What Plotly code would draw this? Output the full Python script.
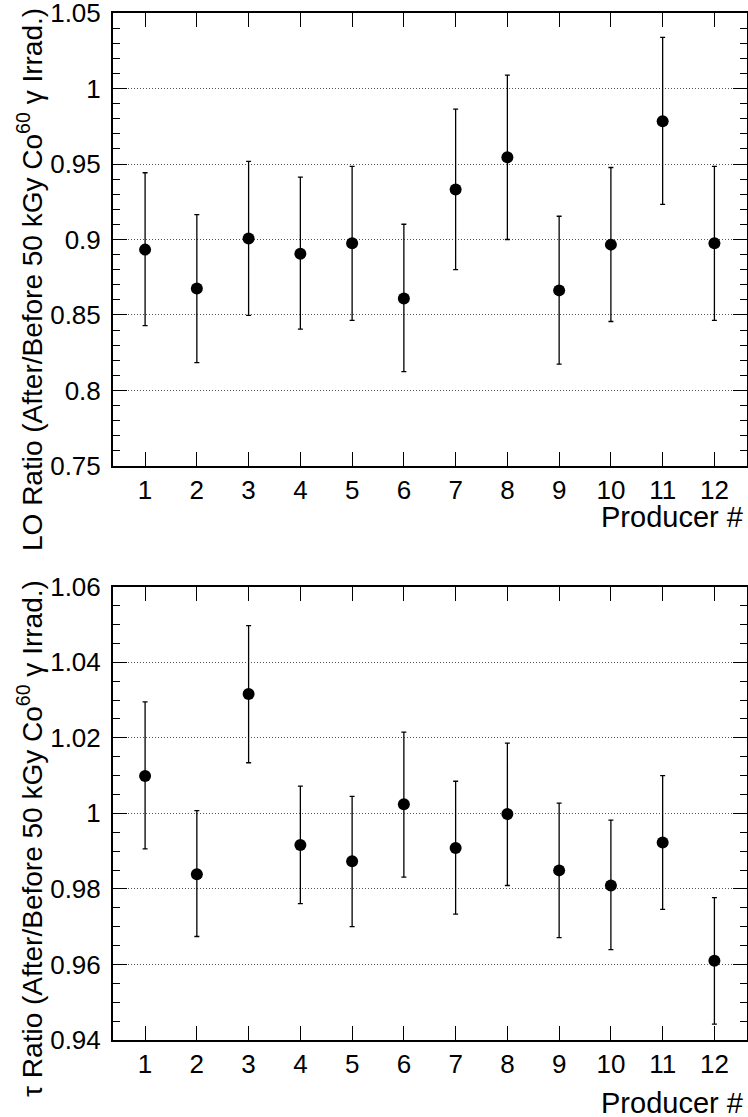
import plotly.graph_objects as go

producers = [1, 2, 3, 4, 5, 6, 7, 8, 9, 10, 11, 12]
x_tick_labels = [str(p) for p in producers]

# Light output ratio (top panel)
lo_ratio = [0.8933, 0.8676, 0.9006, 0.8906, 0.8975, 0.8610, 0.9331, 0.9544, 0.8663, 0.8966, 0.9783, 0.8975]
lo_err_up = [0.0509, 0.0489, 0.0511, 0.0507, 0.0509, 0.0491, 0.0532, 0.0544, 0.0491, 0.0511, 0.0556, 0.0509]
lo_err_dn = [0.0503, 0.0491, 0.0509, 0.0500, 0.0511, 0.0485, 0.0531, 0.0544, 0.0489, 0.0509, 0.0551, 0.0511]

# Decay time ratio (bottom panel)
tau_ratio = [1.0099, 0.9839, 1.0316, 0.9916, 0.9873, 1.0024, 0.9908, 0.9998, 0.9849, 0.9809, 0.9923, 0.9610]
tau_err_up = [0.0196, 0.0168, 0.0181, 0.0156, 0.0172, 0.0191, 0.0177, 0.0188, 0.0178, 0.0173, 0.0177, 0.0167]
tau_err_dn = [0.0193, 0.0165, 0.0182, 0.0155, 0.0173, 0.0193, 0.0175, 0.0189, 0.0178, 0.0170, 0.0177, 0.0168]

lo_ticks = [0.75, 0.8, 0.85, 0.9, 0.95, 1.0, 1.05]
lo_tick_labels = ["0.75", "0.8", "0.85", "0.9", "0.95", "1", "1.05"]
tau_ticks = [0.94, 0.96, 0.98, 1.0, 1.02, 1.04, 1.06]
tau_tick_labels = ["0.94", "0.96", "0.98", "1", "1.02", "1.04", "1.06"]

lo_title = "LO Ratio (After/Before 50 kGy Co<sup>60</sup> γ Irrad.)"
tau_title = "τ Ratio (After/Before 50 kGy Co<sup>60</sup> γ Irrad.)"
x_title = "Producer #"

W, H = 748, 1117
FONT = "Liberation Sans, Arial, Helvetica, sans-serif"


def px_x(v):
    return v / W


def px_y(v):
    return 1 - v / H


fig = go.Figure()


def add_panel(y, up, dn, xa, ya):
    fig.add_trace(go.Scatter(
        x=producers, y=y, mode="markers", xaxis=xa, yaxis=ya,
        marker=dict(color="black", size=12, symbol="circle"),
        error_y=dict(type="data", symmetric=False, array=up, arrayminus=dn,
                     color="black", thickness=1.3, width=2.5),
        showlegend=False, cliponaxis=False,
    ))


add_panel(lo_ratio, lo_err_up, lo_err_dn, "x", "y")
add_panel(tau_ratio, tau_err_up, tau_err_dn, "x2", "y2")

xdom = [px_x(113), px_x(746.5)]
top_dom = [px_y(466), px_y(13)]
bot_dom = [px_y(1040), px_y(586.7)]

common_x = dict(
    range=[0.38, 12.62], tickmode="array", tickvals=producers, ticktext=x_tick_labels,
    ticks="inside", ticklen=14, tickwidth=1.2, tickcolor="black",
    showline=True, linewidth=2, linecolor="black", mirror="allticks",
    showgrid=False, zeroline=False, domain=xdom, automargin=False,
    ticklabeloverflow="allow",
    tickfont=dict(family=FONT, size=26, color="black"),
)
common_y = dict(
    tickmode="array",
    ticks="inside", ticklen=14, tickwidth=1.2, tickcolor="black",
    showline=True, linewidth=2, linecolor="black", mirror="allticks",
    showgrid=True, gridcolor="#555", griddash="1px,2px", gridwidth=1,
    zeroline=False, automargin=False, ticklabelstandoff=5,
    ticklabeloverflow="allow",
    tickfont=dict(family=FONT, size=26, color="black"),
)

fig.update_layout(
    width=W, height=H,
    margin=dict(l=0, r=0, t=0, b=0, pad=0, autoexpand=False),
    paper_bgcolor="white", plot_bgcolor="white",
    font=dict(family=FONT, color="black"),
    xaxis=dict(anchor="y", **common_x),
    yaxis=dict(anchor="x", domain=top_dom, range=[0.74999, 1.05001],
               tickvals=lo_ticks, ticktext=lo_tick_labels,
               minor=dict(tickmode="linear", ticks="inside", ticklen=7,
                          dtick=0.01, tick0=0.75, tickwidth=1,
                          tickcolor="black", showgrid=False),
               **common_y),
    xaxis2=dict(anchor="y2", **common_x),
    yaxis2=dict(anchor="x2", domain=bot_dom, range=[0.93999, 1.06001],
                tickvals=tau_ticks, ticktext=tau_tick_labels,
                minor=dict(tickmode="linear", ticks="inside", ticklen=7,
                           dtick=0.005, tick0=0.94, tickwidth=1,
                           tickcolor="black", showgrid=False),
                **common_y),
)

ann_font = dict(family=FONT, size=28, color="black")
fig.add_annotation(text=lo_title, xref="paper", yref="paper",
                   x=px_x(30), y=px_y(280), xanchor="center", yanchor="middle",
                   textangle=-90, showarrow=False, font=ann_font)
fig.add_annotation(text=tau_title, xref="paper", yref="paper",
                   x=px_x(30), y=px_y(839), xanchor="center", yanchor="middle",
                   textangle=-90, showarrow=False, font=ann_font)
fig.add_annotation(text=x_title, xref="paper", yref="paper",
                   x=px_x(745), y=px_y(517), xanchor="right", yanchor="middle",
                   showarrow=False, font=dict(family=FONT, size=29, color="black"))
fig.add_annotation(text=x_title, xref="paper", yref="paper",
                   x=px_x(745), y=px_y(1103), xanchor="right", yanchor="middle",
                   showarrow=False, font=dict(family=FONT, size=29, color="black"))

fig.write_html("out.html",
               config={"displayModeBar": False},
               post_script="document.body.style.margin='0';document.body.style.overflow='hidden';")
